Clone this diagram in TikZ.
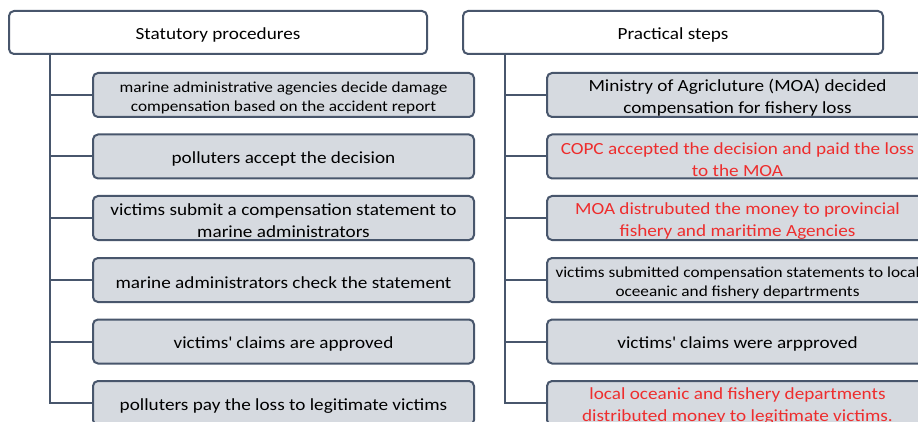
\documentclass[tikz,border=0pt]{standalone}
\usepackage{fontspec}
\setmainfont{Carlito}[FakeStretch=1.13]
\usetikzlibrary{backgrounds}
\definecolor{edge}{RGB}{72,86,108}
\definecolor{boxfill}{RGB}{214,218,224}
\definecolor{redtext}{RGB}{238,45,45}
\newcommand\bigstrt{\rule{0pt}{17.6pt}}
\newcommand\smstrt{\rule{0pt}{16.4pt}}
\newcommand\apos{\textquotesingle}
\begin{document}
\begin{tikzpicture}[x=1pt,y=-1pt,
  hdr/.style={draw=edge, line width=2pt, rounded corners=5pt, fill=white,
    minimum height=43pt, inner sep=0pt, font=\fontsize{17}{21}\selectfont},
  item/.style={draw=edge, line width=2pt, rounded corners=5pt, fill=boxfill,
    minimum width=381pt, minimum height=44pt, inner sep=0pt, align=center,
    font=\fontsize{17}{22}\selectfont},
  smalltxt/.style={font=\fontsize{15.25}{18.5}\selectfont},
  redtxt/.style={text=redtext},
  conn/.style={draw=edge, line width=2pt}]
\useasboundingbox (0,0) rectangle (918,422);
\clip (0,0) rectangle (918,422);
\node[hdr, minimum width=418pt] (hL) at (218,32.5) {\bigstrt Statutory procedures};
\node[hdr, minimum width=420pt] (hR) at (673,32.5) {\bigstrt Practical steps};

\node[item, smalltxt] (l1) at (283.5,95) {\smstrt marine administrative agencies decide damage\\compensation based on the accident report};
\node[item] (l2) at (283.5,156.5) {\bigstrt polluters accept the decision};
\node[item] (l3) at (283.5,218) {\bigstrt victims submit a compensation statement to\\marine administrators};
\node[item] (l4) at (283.5,280) {\bigstrt marine administrators check the statement};
\node[item] (l5) at (283.5,341.5) {\bigstrt victims\apos{} claims are approved};
\node[item] (l6) at (283.5,403) {\bigstrt polluters pay the loss to legitimate victims};

\node[item] (r1) at (737.5,95) {\bigstrt Ministry of Agricluture (MOA) decided\\compensation for fishery loss};
\node[item, redtxt] (r2) at (737.5,156.5) {\bigstrt COPC accepted the decision and paid the loss\\to the MOA};
\node[item, redtxt] (r3) at (737.5,218) {\bigstrt MOA distrubuted the money to provincial\\fishery and maritime Agencies};
\node[item, smalltxt] (r4) at (737.5,280) {\smstrt victims submitted compensation statements to local\\oceeanic and fishery departrments};
\node[item] (r5) at (737.5,341.5) {\bigstrt victims\apos{} claims were arpproved};
\node[item, redtxt] (r6) at (737.5,403) {\bigstrt local oceanic and fishery departments\\distributed money to legitimate victims.};

\begin{scope}[on background layer]
\foreach \n in {l1,l2,l3,l4,l5,l6}
  \draw[conn] ([xshift=42pt]hL.south west) |- (\n.west);
\foreach \n in {r1,r2,r3,r4,r5,r6}
  \draw[conn] ([xshift=43pt]hR.south west) |- (\n.west);
\end{scope}
\end{tikzpicture}
\end{document}
